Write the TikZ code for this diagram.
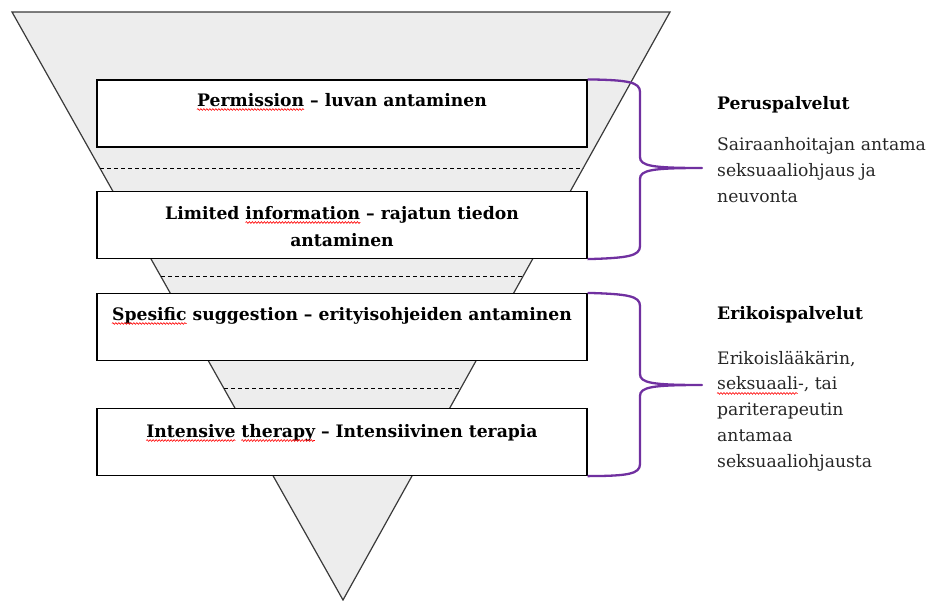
\documentclass[tikz,border=0pt]{standalone}
\usepackage{fontspec}
\setmainfont{DejaVu Serif}
\usetikzlibrary{decorations.pathmorphing,calc}
\definecolor{funnelfill}{HTML}{EDEDED}
\definecolor{funneldraw}{HTML}{3A3A3A}
\definecolor{bracecol}{HTML}{7030A0}
\definecolor{txt}{HTML}{262626}
\newcommand\boxfont{\fontsize{17.2}{27}\selectfont\bfseries}
\newcommand\bodyfont{\fontsize{17.2}{25.7}\selectfont}
\newlength\wPerm \newlength\wInfo \newlength\wLine \newlength\wLim \newlength\wSpes
\newlength\wInt \newlength\wIntSp \newlength\wTher \newlength\wSeks
\begin{document}
\settowidth\wPerm{\boxfont Permission}
\settowidth\wInfo{\boxfont information}
\settowidth\wLine{\boxfont Limited information – rajatun tiedon}
\settowidth\wLim{\boxfont Limited }
\settowidth\wSpes{\boxfont Spesific}
\settowidth\wInt{\boxfont Intensive}
\settowidth\wIntSp{\boxfont Intensive }
\settowidth\wTher{\boxfont therapy}
\settowidth\wSeks{\bodyfont seksuaali}
\begin{tikzpicture}[x=1pt,y=-1pt,
  funnel/.style={fill=funnelfill,draw=funneldraw,line width=1.2pt},
  levelbox/.style={draw=black,fill=white,line width=1.2pt,minimum width=490pt,minimum height=67pt,inner sep=0pt},
  boxtext/.style={font=\boxfont,align=center,inner sep=0pt},
  sepline/.style={draw=black,line width=0.9pt,dash pattern=on 4pt off 3pt},
  bracepath/.style={draw=bracecol,line width=2.3pt,line join=round},
  headtext/.style={font=\fontsize{17.2}{25}\selectfont\bfseries,anchor=base west,inner sep=0pt},
  bodytext/.style={font=\bodyfont,text=txt,align=left,anchor=base west,inner sep=0pt},
  spellwave/.style={draw=red,line width=0.6pt,decorate,decoration={snake,segment length=3pt,amplitude=0.9pt}}]
\useasboundingbox (0,0) rectangle (929,600);
% funnel
\path[funnel] (12,12) -- (670,12) -- (343,600) -- cycle;
% dashed separators
\path[sepline] (100,168) -- (583,168);
\path[sepline] (161,276) -- (523,276);
\path[sepline] (224,388) -- (461,388);
% boxes
\node[levelbox] (b1) at (342,113.5) {};
\node[levelbox] (b2) at (342,225) {};
\node[levelbox] (b3) at (342,327) {};
\node[levelbox] (b4) at (342,442) {};
% box texts
\node[boxtext,anchor=base] (l1) at (342,106) {Permission – luvan antaminen};
\node[boxtext,anchor=base] (l2) at (342,246) {Limited information – rajatun tiedon\\antaminen};
\node[boxtext,anchor=base] (l3) at (342,320) {Spesific suggestion – erityisohjeiden antaminen};
\node[boxtext,anchor=base] (l4) at (342,437) {Intensive therapy – Intensiivinen terapia};
% spelling marks
\path[spellwave] ($(l1.base west)+(0,3.5)$) -- ++(\wPerm,0);
\path[spellwave] ($(342,222.5)+(-0.5\wLine,0)+(\wLim,0)$) -- ++(\wInfo,0);
\path[spellwave] ($(l3.base west)+(0,3.5)$) -- ++(\wSpes,0);
\path[spellwave] ($(l4.base west)+(0,3.5)$) -- ++(\wInt,0);
\path[spellwave] ($(l4.base west)+(\wIntSp,3.5)$) -- ++(\wTher,0);
% braces
\coordinate (tip1) at (702,168);
\coordinate (tip2) at (702,385);
\path[bracepath] (b1.north east) .. controls (628,80) and (640,82) .. (640,92)
  -- (640,157) .. controls (640,166) and (652,168) .. (tip1)
  .. controls (652,168) and (640,170) .. (640,179)
  -- (640,246) .. controls (640,256) and (628,258) .. (b2.south east);
\path[bracepath] (b3.north east) .. controls (628,294) and (640,296) .. (640,306)
  -- (640,374) .. controls (640,383) and (652,385) .. (tip2)
  .. controls (652,385) and (640,387) .. (640,396)
  -- (640,464) .. controls (640,474) and (628,476) .. (b4.south east);
% right texts
\node[headtext] (h1) at (717,109) {Peruspalvelut};
\node[bodytext] (d1) at (717,202) {Sairaanhoitajan antama\\seksuaaliohjaus ja\\neuvonta};
\node[headtext] (h2) at (717,319) {Erikoispalvelut};
\node[bodytext] (d2) at (717,467) {Erikoislääkärin,\\seksuaali-, tai\\pariterapeutin\\antamaa\\seksuaaliohjausta};
\path[spellwave] ($(d2.base west)+(0,-73.6)$) -- ++(\wSeks,0);
\end{tikzpicture}
\end{document}
